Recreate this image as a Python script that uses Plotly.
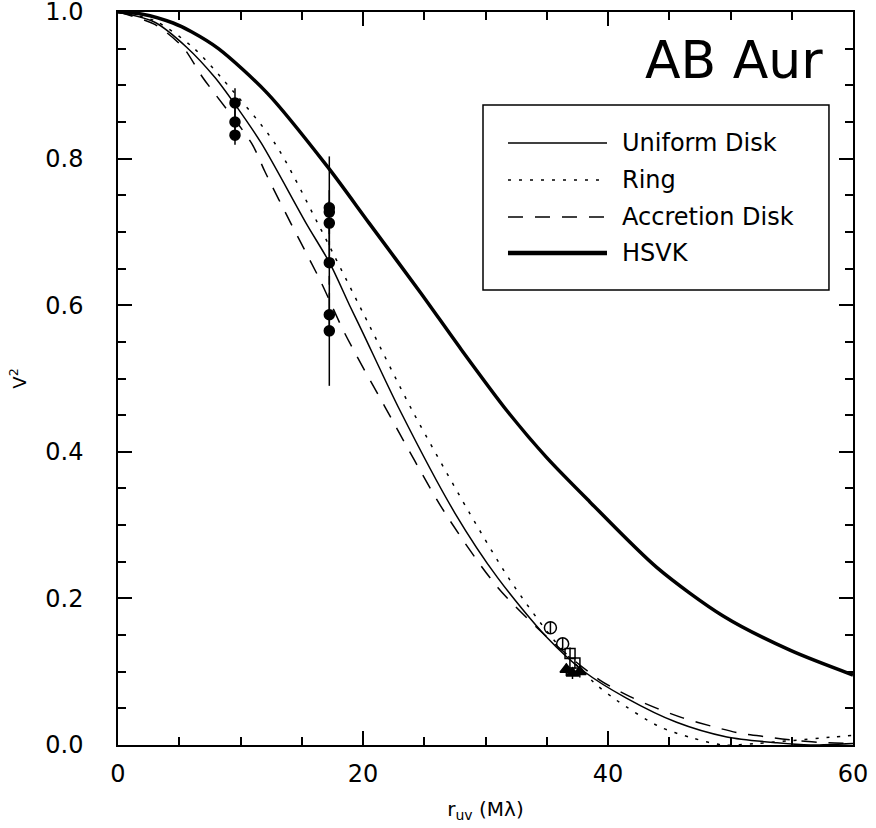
import plotly.graph_objects as go

# ---- model curves ----
x_ud = [0, 3.0, 5.6, 7.9, 9.55, 11.7, 15.35, 17.3, 18.9, 20.0, 23.0, 27.5, 31.0, 35.0, 38.1, 41.5, 45.6, 49.7, 53.8, 56.5, 60.0]
v_ud = [1.0, 0.986, 0.952, 0.911, 0.874, 0.821, 0.712, 0.657, 0.600, 0.562, 0.457, 0.3165, 0.228, 0.147, 0.0996, 0.064, 0.031, 0.011, 0.003, 0.0, 0.002]

x_ring = [0, 3.0, 6.1, 8.4, 12.8, 16.3, 17.55, 20.5, 24.0, 28.7, 32.0, 35.5, 38.8, 40.7, 44.2, 46.9, 49.4, 52.0, 55.0, 58.4, 60.0]
v_ring = [1.0, 0.988, 0.952, 0.911, 0.821, 0.712, 0.671, 0.573, 0.457, 0.3165, 0.225, 0.145, 0.086, 0.061, 0.025, 0.0095, 0.0, 0.002, 0.006, 0.011, 0.013]

x_acc = [0, 3.0, 5.3, 6.9, 10.9, 12.0, 14.1, 16.5, 18.5, 21.8, 26.7, 31.0, 35.5, 39.3, 41.8, 44.0, 46.1, 48.6, 50.8, 53.0, 55.4, 57.9, 60.0]
v_acc = [1.0, 0.983, 0.952, 0.911, 0.821, 0.782, 0.712, 0.634, 0.562, 0.461, 0.3165, 0.215, 0.140, 0.089, 0.066, 0.050, 0.037, 0.025, 0.016, 0.011, 0.006, 0.003, 0.002]

x_hsvk = [0, 2.0, 4.5, 6.0, 8.2, 12.2, 17.1, 20.5, 24.7, 28.0, 31.8, 35.0, 38.5, 44.0, 49.4, 54.9, 60.0]
v_hsvk = [1.0, 0.997, 0.985, 0.973, 0.950, 0.889, 0.789, 0.712, 0.617, 0.540, 0.455, 0.392, 0.332, 0.242, 0.176, 0.129, 0.0955]

# ---- measurements ----
x_fc = [9.55, 9.55, 9.55, 17.25, 17.25, 17.25, 17.25, 17.25, 17.25]
v_fc = [0.876, 0.850, 0.832, 0.733, 0.727, 0.712, 0.658, 0.587, 0.565]
e_fc = [0.020, 0.020, 0.013, 0.070, 0.030, 0.030, 0.030, 0.030, 0.075]

x_oc = [35.3, 36.3]
v_oc = [0.160, 0.138]
e_oc = [0.008, 0.008]

x_sq = [36.9, 37.3]
v_sq = [0.125, 0.112]
e_sq = [0.008, 0.008]

x_tr = [36.6, 37.1, 37.7]
v_tr = [0.103, 0.098, 0.100]
e_tr = [0.008, 0.008, 0.008]

legend_names = ["Uniform Disk", "Ring", "Accretion Disk", "HSVK"]
legend_widths = [1.5, 1.5, 1.5, 4.5]
legend_dashes = ["solid", "3px,8px", "15px,12px", "solid"]

FONT = "DejaVu Sans"
fig = go.Figure()

def curve(x, y, name, width, dash):
    fig.add_trace(go.Scatter(x=x, y=y, mode="lines", name=name, showlegend=False,
                             line=dict(color="black", width=width, dash=dash, shape="spline", smoothing=0.8)))

curve(x_ud, v_ud, legend_names[0], 1.5, legend_dashes[0])
curve(x_ring, v_ring, legend_names[1], 1.5, legend_dashes[1])
curve(x_acc, v_acc, legend_names[2], 1.5, legend_dashes[2])
curve(x_hsvk, v_hsvk, legend_names[3], 3.5, legend_dashes[3])

def pts(x, y, e, symbol, size):
    fig.add_trace(go.Scatter(x=x, y=y, mode="markers", showlegend=False,
                             error_y=dict(type="data", array=e, visible=True, color="black", thickness=1.5, width=0),
                             marker=dict(symbol=symbol, size=size, color="black",
                                         line=dict(color="black", width=1.5))))

pts(x_fc, v_fc, e_fc, "circle", 10)
pts(x_oc, v_oc, e_oc, "circle-open", 12)
pts(x_sq, v_sq, e_sq, "square-open", 10)
pts(x_tr, v_tr, e_tr, "triangle-up", 11)

axis_common = dict(showline=True, linecolor="black", linewidth=1.5, mirror="ticks",
                   ticks="inside", ticklen=14, tickwidth=1.5, tickcolor="black",
                   showgrid=False, zeroline=False, automargin=False, ticklabeloverflow="allow",
                   tickfont=dict(family=FONT, size=24, color="black"))

fig.update_xaxes(range=[0, 60], tickmode="linear", tick0=0, dtick=20,
                 minor=dict(ticks="inside", ticklen=8, tickwidth=1.5, tickcolor="black", dtick=5, tick0=0, showgrid=False),
                 ticklabelstandoff=6,
                 title=dict(text="r<sub>uv</sub> (Mλ)", font=dict(family=FONT, size=20, color="black"), standoff=15),
                 **axis_common)
fig.update_yaxes(range=[0, 1], tickmode="linear", tick0=0, dtick=0.2, tickformat=".1f",
                 minor=dict(ticks="inside", ticklen=8, tickwidth=1.5, tickcolor="black", dtick=0.05, tick0=0, showgrid=False),
                 ticklabelstandoff=28,
                 title=dict(text="V<sup>2</sup>", font=dict(family=FONT, size=18, color="black"), standoff=14),
                 **axis_common)

# ---- legend box (drawn inside the plot, as in the reference) ----
box_x0, box_x1, box_y0, box_y1 = 0.4966, 0.9673, 0.6207, 0.8731
line_x0, line_x1, text_x = 0.5306, 0.6653, 0.683
row_y = [0.8213, 0.7708, 0.7203, 0.6712]

fig.add_shape(type="rect", xref="paper", yref="paper", x0=box_x0, x1=box_x1, y0=box_y0, y1=box_y1,
              line=dict(color="black", width=1.5), fillcolor="white", layer="above")
for name, w, d, yy in zip(legend_names, legend_widths, legend_dashes, row_y):
    fig.add_shape(type="line", xref="paper", yref="paper", x0=line_x0, x1=line_x1, y0=yy, y1=yy,
                  line=dict(color="black", width=w, dash=d), layer="above")
    fig.add_annotation(text=name, x=text_x, y=yy, xref="paper", yref="paper", showarrow=False,
                       xanchor="left", yanchor="middle", font=dict(family=FONT, size=24, color="black"))

fig.add_annotation(text="AB Aur", x=0.838, y=0.934, xref="paper", yref="paper",
                   showarrow=False, xanchor="center", yanchor="middle",
                   font=dict(family=FONT, size=52, color="black"))

fig.update_layout(
    width=876, height=828,
    margin=dict(l=118, r=23, t=12, b=83, autoexpand=False),
    paper_bgcolor="white", plot_bgcolor="white",
    showlegend=False,
)

fig.write_html("out.html", config={"displayModeBar": False},
               post_script="document.body.style.margin='0';")
